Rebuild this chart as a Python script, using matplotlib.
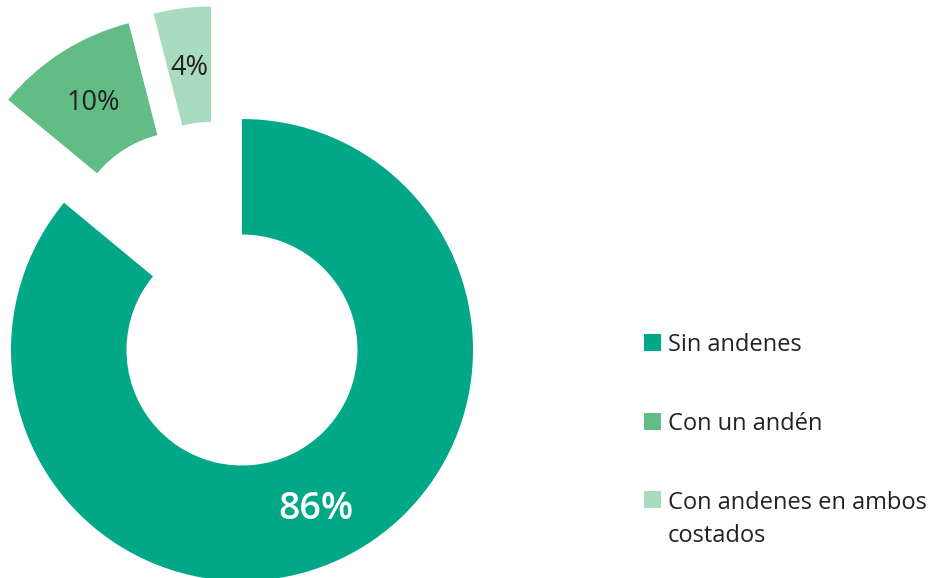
import matplotlib
matplotlib.use("Agg")
import matplotlib.pyplot as plt
from matplotlib.patches import Rectangle

categories = ["Sin andenes", "Con un andén", "Con andenes en ambos\ncostados"]
values = [86, 10, 4]
colors = ["#00A887", "#62BC85", "#A9DBBE"]
label_colors = ["white", "#222222", "#222222"]

W, H = 930, 578
fig = plt.figure(figsize=(W / 100, H / 100), dpi=100)
ax = fig.add_axes([0, 0, 1, 1])
R = 231.0
cx, cy = 242.0, 350.0

wedges, texts, autotexts = ax.pie(
    values, colors=colors, startangle=90, counterclock=False,
    radius=1.0, wedgeprops=dict(width=0.5, linewidth=0),
    autopct="%d%%", pctdistance=0.75, frame=True,
)
ax.axis("off")
ax.set_xlim(-cx / R, (W - cx) / R)
ax.set_ylim(-(H - cy) / R, cy / R)
ax.set_aspect("equal")

# manual offsets of the detached segments (data units)
offsets = [(0, 0), (-0.242, 0.446), (-0.134, 0.487)]
for i, (w, t, (dx, dy), lc) in enumerate(zip(wedges, autotexts, offsets, label_colors)):
    c = w.center
    w.set_center((c[0] + dx, c[1] + dy))
    x, y = t.get_position()
    t.set_color(lc)
    t.set_family("Open Sans")
    if i == 0:
        t.set_fontsize(27)
        t.set_fontweight("semibold")
        t.set_position((x + dx, y + dy - 0.01))
    else:
        t.set_fontsize(19.5)
        t.set_position((x + dx, y + dy - 0.012))

# legend drawn manually (pixel layout)
baselines = [351, 430, 508]
sq_x, sq = 644, 17
text_x = 668
line_step = 34
for cat, col, b in zip(categories, colors, baselines):
    fig.patches.append(Rectangle((sq_x / W, 1 - b / H), sq / W, sq / H,
                                 transform=fig.transFigure, facecolor=col,
                                 edgecolor="none"))
    nl = cat.count("\n")
    fig.text(text_x / W, 1 - (b + nl * line_step) / H, cat, ha="left",
             va="baseline", fontsize=17, family="Open Sans",
             color="#222222", linespacing=1.5)

fig.savefig("out.png", dpi=100, facecolor="white")
